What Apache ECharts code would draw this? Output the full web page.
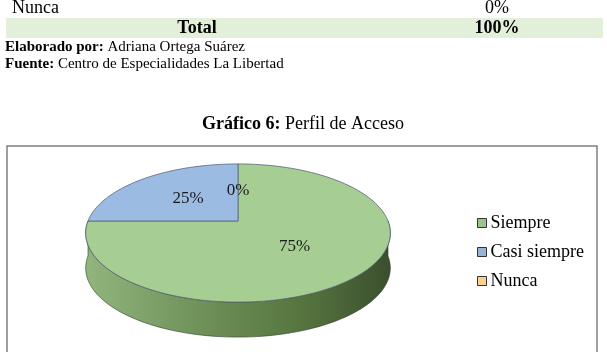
<!DOCTYPE html>
<html>
<head>
<meta charset="utf-8">
<script src="https://cdn.jsdelivr.net/npm/echarts@6/dist/echarts.min.js"></script>
<style>
  html, body { margin: 0; padding: 0; background: #fff; }
  #main { width: 607px; height: 352px; }
</style>
</head>
<body>
<div id="main"></div>
<script>
// datos del gráfico
var categories = ['Siempre', 'Casi siempre', 'Nunca'];
var values = [75, 25, 0];

// filas de la tabla (parte visible)
var tableRows = ['Nunca', 'Total'];
var tableValues = ['0%', '100%'];

var colors = ['#a6ce92', '#9cbbe3', '#fbd38d'];
var legendColors = ['#9cc689', '#95b3d7', '#fad08a'];

var serif = '"Liberation Serif", "Times New Roman", serif';

// geometría del pastel 3D
var CX = 238, CY = 221, RX = 150, RY = 67, K = 0.174, DEPTH = 35;

var total = values.reduce(function (a, b) { return a + b; }, 0);

function project(theta, f) {
    var t = theta * Math.PI / 180;
    var u = f * Math.sin(t), v = -f * Math.cos(t);
    var d = 1 - K * v;
    return [CX + RX * u / d, CY + RY * v / d];
}

function arc(a, b) {
    var pts = [];
    var n = Math.max(2, Math.ceil((b - a) / 2));
    for (var i = 0; i <= n; i++) {
        pts.push(project(a + (b - a) * i / n, 1));
    }
    return pts;
}

function makeRender(idx) {
    return function (params, api) {
        var before = 0;
        for (var i = 0; i < idx; i++) before += values[i];
        var val = api.value(0);
        var start = before / total * 360;
        var end = start + val / total * 360;
        var children = [];

        // pared lateral (frente)
        var a = Math.max(start, 90), b = Math.min(end, 270);
        if (b > a) {
            var top = arc(a, b);
            var bottom = top.map(function (p) { return [p[0], p[1] + DEPTH]; }).reverse();
            children.push({
                type: 'polygon',
                shape: { points: top.concat(bottom) },
                style: {
                    fill: new echarts.graphic.LinearGradient(0, 0, 1, 0, [
                        { offset: 0, color: '#92b47d' },
                        { offset: 0.35, color: '#71945c' },
                        { offset: 0.7, color: '#57763f' },
                        { offset: 1, color: '#3a4f2e' }
                    ]),
                    stroke: '#2f3f28',
                    lineWidth: 0.6
                }
            });
        }

        // cara superior
        if (end > start) {
            var pts = [[CX, CY]].concat(arc(start, end));
            children.push({
                type: 'polygon',
                shape: { points: pts },
                style: {
                    fill: colors[idx],
                    stroke: '#55657a',
                    lineWidth: 0.8
                }
            });
        }

        // etiqueta
        var mid = (start + end) / 2;
        var p = project(mid, 0.5);
        children.push({
            type: 'text',
            style: {
                text: Math.round(val / total * 100) + '%',
                x: p[0], y: p[1],
                align: 'center', verticalAlign: 'middle',
                fontFamily: serif, fontSize: 17, fill: '#1a1a1a'
            },
            z2: 10
        });

        return { type: 'group', children: children };
    };
}

var dom = document.getElementById('main');
var myChart = echarts.init(dom, null, { renderer: 'canvas' });

var option = {
    backgroundColor: '#fff',
    animation: false,
    legend: {
        orient: 'vertical',
        left: 477,
        top: 213,
        padding: 0,
        icon: 'rect',
        itemWidth: 9,
        itemHeight: 9,
        itemGap: 9,
        selectedMode: false,
        data: categories,
        itemStyle: { borderColor: '#333', borderWidth: 1 },
        textStyle: { fontFamily: serif, fontSize: 18, color: '#000', lineHeight: 20, padding: [0, 0, 0, -1] }
    },
    graphic: [
        { type: 'rect', shape: { x: 6, y: 18, width: 597, height: 20 }, style: { fill: '#e2efd9' }, z: -1 },
        { type: 'text', style: { text: tableRows[0], x: 12, y: 8, verticalAlign: 'middle', fontFamily: serif, fontSize: 18, fill: '#000' } },
        { type: 'text', style: { text: tableValues[0], x: 497, y: 8, align: 'center', verticalAlign: 'middle', fontFamily: serif, fontSize: 18, fill: '#000' } },
        { type: 'text', style: { text: tableRows[1], x: 197, y: 28, align: 'center', verticalAlign: 'middle', fontFamily: serif, fontSize: 18, fontWeight: 'bold', fill: '#000' } },
        { type: 'text', style: { text: tableValues[1], x: 497, y: 28, align: 'center', verticalAlign: 'middle', fontFamily: serif, fontSize: 18, fontWeight: 'bold', fill: '#000' } },
        { type: 'text', style: {
            text: '{b|Elaborado por:} Adriana Ortega Suárez', x: 5, y: 47, verticalAlign: 'middle',
            fontFamily: serif, fontSize: 15, fill: '#000',
            rich: { b: { fontFamily: serif, fontSize: 15, fontWeight: 'bold', fill: '#000' } }
        } },
        { type: 'text', style: {
            text: '{b|Fuente:} Centro de Especialidades La Libertad', x: 5, y: 64, verticalAlign: 'middle',
            fontFamily: serif, fontSize: 15, fill: '#000',
            rich: { b: { fontFamily: serif, fontSize: 15, fontWeight: 'bold', fill: '#000' } }
        } },
        { type: 'text', style: {
            text: '{b|Gráfico 6:} Perfil de Acceso', x: 303, y: 124, align: 'center', verticalAlign: 'middle',
            fontFamily: serif, fontSize: 18, fill: '#000',
            rich: { b: { fontFamily: serif, fontSize: 18, fontWeight: 'bold', fill: '#000' } }
        } },
        { type: 'rect', shape: { x: 7, y: 146, width: 590, height: 230 }, style: { fill: 'none', stroke: '#7f7f7f', lineWidth: 1.5 } }
    ],
    series: categories.map(function (name, i) {
        return {
            name: name,
            type: 'custom',
            coordinateSystem: 'none',
            itemStyle: { color: legendColors[i] },
            silent: true,
            renderItem: makeRender(i),
            data: [[values[i]]]
        };
    })
};

if (option && typeof option === 'object') {
    myChart.setOption(option);
}

window.addEventListener('resize', myChart.resize);
</script>
</body>
</html>
